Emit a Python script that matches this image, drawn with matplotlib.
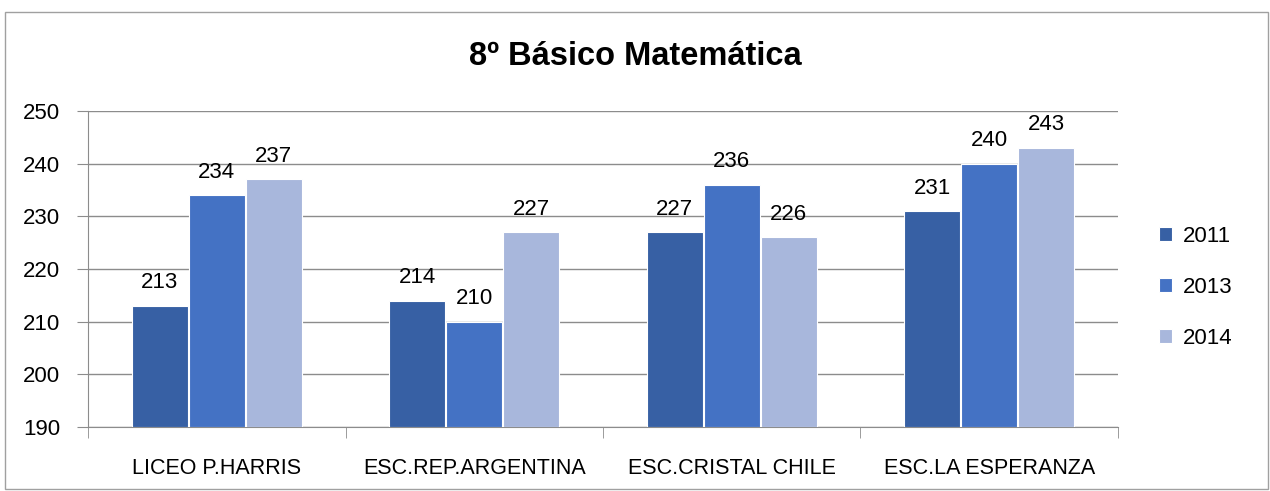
import matplotlib
matplotlib.use('Agg')
import matplotlib.pyplot as plt
import numpy as np
from matplotlib.patches import Rectangle

plt.rcParams['font.family'] = ['Liberation Sans', 'DejaVu Sans']

# data
schools = ['LICEO P.HARRIS', 'ESC.REP.ARGENTINA', 'ESC.CRISTAL CHILE', 'ESC.LA ESPERANZA']
years = ['2011', '2013', '2014']
v2011 = [213, 214, 227, 231]
v2013 = [234, 210, 236, 240]
v2014 = [237, 227, 226, 243]
colors = ['#3760A4', '#4472C4', '#A8B7DC']

fig = plt.figure(figsize=(12.7, 4.91), dpi=100)
ax = fig.add_axes([0.0693, 0.1303, 0.8110, 0.6437])

# outer chart border
fig.patches.append(Rectangle((5 / 1270, 2 / 491), 1263 / 1270, 477 / 491, transform=fig.transFigure,
                             fill=False, edgecolor='#A0A0A0', lw=1))

x = np.arange(len(schools))
w = 0.218
step = 0.222
for i, (vals, yr) in enumerate(zip([v2011, v2013, v2014], years)):
    bars = ax.bar(x + (i - 1) * step, [v - 190 for v in vals], w, bottom=190, color=colors[i],
                  edgecolor='white', linewidth=0.8, label=yr, zorder=3)
    for b, v in zip(bars, vals):
        ax.annotate(str(v), (b.get_x() + b.get_width() / 2, v), xytext=(0, 9), textcoords='offset points',
                    ha='center', va='bottom', fontsize=16)

ax.set_ylim(190, 250)
ax.set_xlim(-0.5, 3.5)
ax.set_yticks(range(190, 251, 10))
ax.yaxis.grid(True, color='#8C8C8C', lw=1)
ax.set_axisbelow(True)
for s in ['top', 'right']:
    ax.spines[s].set_visible(False)
ax.spines['left'].set_color('#8C8C8C')
ax.spines['bottom'].set_color('#8C8C8C')
ax.tick_params(axis='y', length=8, color='#8C8C8C', labelsize=16, pad=12)
ax.set_xticks(x)
ax.set_xticklabels(schools, fontsize=15.5)
ax.tick_params(axis='x', length=0, pad=22)
ax.set_xticks(np.arange(-0.5, 4.0, 1), minor=True)
ax.tick_params(axis='x', which='minor', length=8, color='#8C8C8C')

fig.text(0.5, 0.884, '8º Básico Matemática', ha='center', va='center', fontsize=23.5, fontweight='bold')

ax.legend(loc='center left', bbox_to_anchor=(1.02, 0.443), frameon=False, fontsize=16,
          handlelength=0.6, handleheight=0.6, labelspacing=1.35, handletextpad=0.5)

fig.savefig('out.png', dpi=100)
